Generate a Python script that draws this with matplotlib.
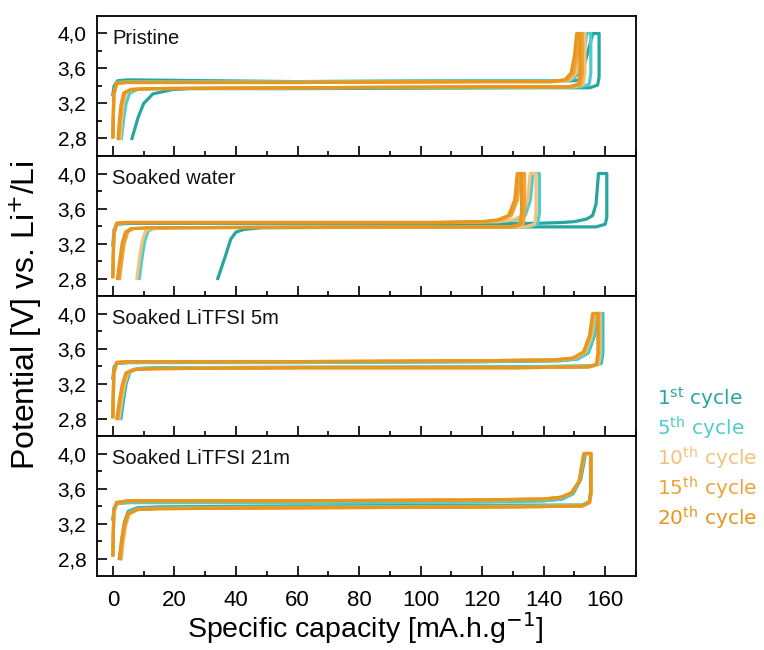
import matplotlib
matplotlib.use('Agg')
import matplotlib.pyplot as plt
from matplotlib.ticker import MultipleLocator, FixedLocator, FuncFormatter

plt.rcParams.update({
    'font.family': 'Liberation Sans',
    'axes.linewidth': 1.3,
    'mathtext.fontset': 'dejavusans',
})

# Cycle legend
cycle_num = ['1', '5', '10', '15', '20']
cycle_sup = ['st', 'th', 'th', 'th', 'th']
cycle_colors = ['#26a69e', '#50cccb', '#f3c27c', '#eca43a', '#e8961c']

panel_names = ['Pristine', 'Soaked water', 'Soaked LiTFSI 5m', 'Soaked LiTFSI 21m']

# Each loop: charge (upper plateau, left->right, up to 4.0 V),
# then discharge (lower plateau, right->left, down to 2.8 V)
pristine_q = [
    [0.0, 0.4, 1.5, 5, 60, 120, 146, 150, 151.6, 153.5, 156.0, 158.0, 158.0, 157.5, 155, 130, 60, 25, 19.5, 13, 10, 8.2, 6.2],
    [0.0, 0.3, 1.2, 4, 60, 120, 145, 149.5, 151.5, 153.0, 154.0, 155.3, 155.3, 154.8, 152, 120, 60, 15, 8, 5.5, 4.3, 3.5, 2.8],
    [0.0, 0.3, 1.2, 4, 60, 120, 144, 148.5, 150.5, 151.6, 152.3, 153.4, 153.4, 152.9, 150, 120, 60, 12, 6.5, 4.2, 3.3, 2.8, 2.4],
    [0.0, 0.3, 1.2, 4, 60, 120, 143, 147.7, 149.7, 150.8, 151.5, 152.6, 152.6, 152.1, 149, 120, 60, 12, 6.1, 3.8, 2.9, 2.4, 2.0],
    [0.0, 0.3, 1.2, 4, 60, 120, 142, 146.9, 148.9, 150.0, 150.7, 151.8, 151.8, 151.3, 148, 120, 60, 12, 5.8, 3.5, 2.6, 2.1, 1.7],
]
pristine_v = [
    [3.30, 3.40, 3.46, 3.47, 3.45, 3.46, 3.46, 3.46, 3.47, 3.68, 4.00, 4.00, 3.50, 3.41, 3.38, 3.38, 3.37, 3.37, 3.36, 3.31, 3.20, 3.04, 2.80],
    [2.82, 3.30, 3.44, 3.45, 3.45, 3.46, 3.46, 3.48, 3.55, 3.75, 4.00, 4.00, 3.55, 3.42, 3.39, 3.38, 3.38, 3.37, 3.36, 3.32, 3.20, 3.02, 2.80],
    [2.82, 3.30, 3.43, 3.44, 3.44, 3.45, 3.45, 3.47, 3.55, 3.75, 4.00, 4.00, 3.55, 3.42, 3.39, 3.39, 3.38, 3.37, 3.36, 3.32, 3.18, 3.00, 2.80],
    [2.82, 3.30, 3.43, 3.44, 3.44, 3.45, 3.45, 3.47, 3.55, 3.75, 4.00, 4.00, 3.55, 3.42, 3.39, 3.39, 3.38, 3.37, 3.36, 3.32, 3.18, 3.00, 2.80],
    [2.82, 3.30, 3.43, 3.44, 3.44, 3.45, 3.45, 3.47, 3.55, 3.75, 4.00, 4.00, 3.55, 3.42, 3.39, 3.39, 3.38, 3.37, 3.36, 3.32, 3.18, 3.00, 2.80],
]

water_q = [
    [0.0, 0.4, 1.5, 5, 60, 120, 137, 146, 150, 154, 155.9, 157.0, 157.8, 160.5, 160.5, 160.0, 157, 130, 80, 48, 42.5, 40, 38.3, 36.5, 34.1],
    [0.0, 0.4, 1.5, 5, 60, 110, 126, 131, 134, 135.7, 136.5, 138.6, 138.6, 138.0, 135, 110, 60, 20, 13, 11.4, 10.3, 9.4, 8.6],
    [0.0, 0.3, 1.2, 4, 60, 110, 125, 130, 133, 134.8, 135.6, 137.5, 137.5, 137.0, 134, 110, 60, 20, 12.2, 10.6, 9.5, 8.6, 7.8],
    [0.0, 0.3, 1.2, 4, 60, 105, 121, 126, 129.5, 131.5, 132.3, 133.8, 133.8, 133.3, 130, 100, 50, 12, 6.5, 4.8, 3.7, 2.9, 2.2],
    [0.0, 0.3, 1.2, 4, 60, 105, 120, 125, 128.6, 130.6, 131.4, 132.8, 132.8, 132.3, 129, 100, 50, 12, 5.8, 4.1, 3.0, 2.2, 1.5],
]
water_v = [
    [3.18, 3.36, 3.42, 3.43, 3.43, 3.43, 3.43, 3.44, 3.45, 3.48, 3.52, 3.65, 4.00, 4.00, 3.50, 3.42, 3.39, 3.39, 3.385, 3.38, 3.36, 3.33, 3.25, 3.05, 2.80],
    [2.90, 3.35, 3.43, 3.44, 3.44, 3.44, 3.45, 3.47, 3.52, 3.70, 4.00, 4.00, 3.55, 3.42, 3.39, 3.39, 3.385, 3.38, 3.37, 3.34, 3.22, 3.02, 2.80],
    [2.85, 3.32, 3.43, 3.44, 3.44, 3.44, 3.45, 3.47, 3.52, 3.70, 4.00, 4.00, 3.55, 3.42, 3.39, 3.39, 3.385, 3.38, 3.37, 3.34, 3.22, 3.02, 2.80],
    [2.82, 3.30, 3.43, 3.44, 3.44, 3.44, 3.45, 3.47, 3.52, 3.70, 4.00, 4.00, 3.55, 3.42, 3.39, 3.39, 3.385, 3.38, 3.37, 3.33, 3.20, 3.00, 2.80],
    [2.82, 3.30, 3.43, 3.44, 3.44, 3.44, 3.45, 3.47, 3.52, 3.70, 4.00, 4.00, 3.55, 3.42, 3.39, 3.39, 3.385, 3.38, 3.37, 3.33, 3.20, 3.00, 2.80],
]

litfsi5_q = [
    [0.0, 0.4, 1.5, 5, 60, 120, 145, 151, 154.5, 156.5, 157.5, 159.2, 159.2, 158.7, 156, 130, 60, 14, 8, 5.5, 4.3, 3.4, 2.6],
    [0.0, 0.3, 1.2, 5, 60, 120, 145, 150.8, 154.3, 156.3, 157.3, 158.9, 158.9, 158.4, 155.7, 130, 60, 14, 7.7, 5.2, 4.0, 3.1, 2.3],
    [0.0, 0.3, 1.2, 5, 60, 120, 144, 150.1, 153.6, 155.6, 156.6, 158.3, 158.3, 157.8, 155.1, 130, 60, 14, 7.4, 4.9, 3.7, 2.8, 2.0],
    [0.0, 0.3, 1.2, 5, 60, 120, 144, 149.7, 153.2, 155.2, 156.2, 157.9, 157.9, 157.4, 154.7, 130, 60, 14, 7.0, 4.5, 3.3, 2.4, 1.6],
    [0.0, 0.3, 1.2, 5, 60, 120, 143, 149.4, 152.9, 154.9, 155.9, 157.6, 157.6, 157.1, 154.4, 130, 60, 14, 6.7, 4.2, 3.0, 2.1, 1.3],
]
litfsi5_v = [
    [3.26, 3.39, 3.43, 3.44, 3.44, 3.45, 3.46, 3.48, 3.55, 3.75, 4.00, 4.00, 3.55, 3.43, 3.40, 3.39, 3.385, 3.38, 3.37, 3.33, 3.20, 3.00, 2.80],
    [2.85, 3.32, 3.43, 3.44, 3.44, 3.45, 3.46, 3.48, 3.55, 3.75, 4.00, 4.00, 3.55, 3.43, 3.40, 3.39, 3.385, 3.38, 3.37, 3.33, 3.20, 3.00, 2.80],
    [2.82, 3.32, 3.44, 3.45, 3.45, 3.46, 3.47, 3.49, 3.56, 3.75, 4.00, 4.00, 3.55, 3.42, 3.39, 3.38, 3.38, 3.37, 3.36, 3.32, 3.18, 3.00, 2.80],
    [2.82, 3.32, 3.44, 3.45, 3.45, 3.46, 3.47, 3.49, 3.56, 3.75, 4.00, 4.00, 3.55, 3.42, 3.39, 3.38, 3.38, 3.37, 3.36, 3.32, 3.18, 3.00, 2.80],
    [2.82, 3.32, 3.44, 3.45, 3.45, 3.46, 3.47, 3.49, 3.56, 3.75, 4.00, 4.00, 3.55, 3.42, 3.39, 3.38, 3.38, 3.37, 3.36, 3.32, 3.18, 3.00, 2.80],
]

litfsi21_q = [
    [0.0, 0.4, 1.5, 5, 60, 120, 140, 146, 149.5, 152, 153.6, 155.2, 155.2, 154.8, 152.5, 130, 60, 15, 8, 5.0, 3.8, 2.9, 2.1],
    [0.0, 0.3, 1.2, 5, 60, 120, 140, 145.8, 149.3, 151.8, 153.4, 155.3, 155.3, 154.9, 152.5, 130, 60, 15, 8, 5.1, 4.0, 3.1, 2.3],
    [0.0, 0.3, 1.2, 5, 60, 120, 140, 145.5, 149, 151.5, 153.2, 155.5, 155.5, 155.0, 152.5, 130, 60, 15, 8, 5.4, 4.2, 3.4, 2.8],
    [0.0, 0.3, 1.2, 5, 60, 120, 140, 145.5, 149, 151.5, 153.1, 155.4, 155.4, 154.9, 152.5, 130, 60, 15, 8, 5.1, 3.9, 3.1, 2.5],
    [0.0, 0.3, 1.2, 5, 60, 120, 140, 145.5, 149, 151.5, 153.0, 155.3, 155.3, 154.8, 152.5, 130, 60, 15, 8, 4.8, 3.6, 2.8, 2.2],
]
litfsi21_v = [
    [3.25, 3.38, 3.43, 3.44, 3.44, 3.45, 3.46, 3.48, 3.54, 3.70, 4.00, 4.00, 3.55, 3.45, 3.41, 3.41, 3.40, 3.39, 3.38, 3.34, 3.22, 3.02, 2.80],
    [2.85, 3.34, 3.43, 3.44, 3.44, 3.45, 3.46, 3.48, 3.54, 3.70, 4.00, 4.00, 3.55, 3.45, 3.41, 3.40, 3.39, 3.38, 3.37, 3.33, 3.20, 3.00, 2.80],
    [2.84, 3.33, 3.44, 3.46, 3.46, 3.47, 3.48, 3.50, 3.55, 3.68, 4.00, 4.00, 3.55, 3.44, 3.40, 3.39, 3.38, 3.37, 3.36, 3.31, 3.18, 3.00, 2.80],
    [2.84, 3.33, 3.44, 3.46, 3.46, 3.47, 3.48, 3.50, 3.55, 3.68, 4.00, 4.00, 3.55, 3.44, 3.40, 3.39, 3.38, 3.37, 3.36, 3.31, 3.18, 3.00, 2.80],
    [2.84, 3.33, 3.44, 3.46, 3.46, 3.47, 3.48, 3.50, 3.55, 3.68, 4.00, 4.00, 3.55, 3.44, 3.40, 3.39, 3.38, 3.37, 3.36, 3.31, 3.18, 3.00, 2.80],
]

panels_q = [pristine_q, water_q, litfsi5_q, litfsi21_q]
panels_v = [pristine_v, water_v, litfsi5_v, litfsi21_v]

fig, axes = plt.subplots(4, 1, figsize=(7.64, 6.5), dpi=100, sharex=True)
fig.subplots_adjust(left=0.1276, right=0.8325, top=0.9754, bottom=0.1138, hspace=0)

for ax, name, qs, vs in zip(axes, panel_names, panels_q, panels_v):
    for q, v, c in zip(qs, vs, cycle_colors):
        ax.plot(q, v, color=c, linewidth=2.3, solid_joinstyle='round')
    ax.set_xlim(-5, 170)
    ax.set_ylim(2.6, 4.2)
    ax.yaxis.set_major_locator(FixedLocator([2.8, 3.2, 3.6, 4.0]))
    ax.yaxis.set_minor_locator(FixedLocator([3.0, 3.4, 3.8]))
    ax.yaxis.set_major_formatter(FuncFormatter(lambda val, pos: f'{val:.1f}'.replace('.', ',')))
    ax.xaxis.set_major_locator(MultipleLocator(20))
    ax.xaxis.set_minor_locator(MultipleLocator(10))
    ax.tick_params(axis='both', which='major', direction='in', length=7, width=1.2,
                   top=False, right=False)
    ax.tick_params(axis='both', which='minor', direction='in', length=3.5, width=1.2,
                   top=False, right=False)
    ax.tick_params(axis='y', labelsize=15, pad=8)
    ax.tick_params(axis='x', labelsize=16, pad=10)
    ax.text(0.027, 0.84, name, transform=ax.transAxes, ha='left', va='center',
            fontsize=14.5, color='#111111')

fig.text(0.033, 0.515, r'Potential [V] vs. Li$^{+}$/Li', rotation=90,
         ha='center', va='center', fontsize=23)
fig.text(0.478, 0.033, r'Specific capacity [mA.h.g$^{-1}$]',
         ha='center', va='center', fontsize=20.5)

# coloured text legend
for i, (n, s, c) in enumerate(zip(cycle_num, cycle_sup, cycle_colors)):
    fig.text(0.8600, 0.3877 - i * 0.04615, n + r'$^{\mathrm{' + s + '}}$ cycle',
             color=c, fontsize=14.5, family='DejaVu Sans', ha='left', va='center')

fig.savefig('out.png', dpi=100)
